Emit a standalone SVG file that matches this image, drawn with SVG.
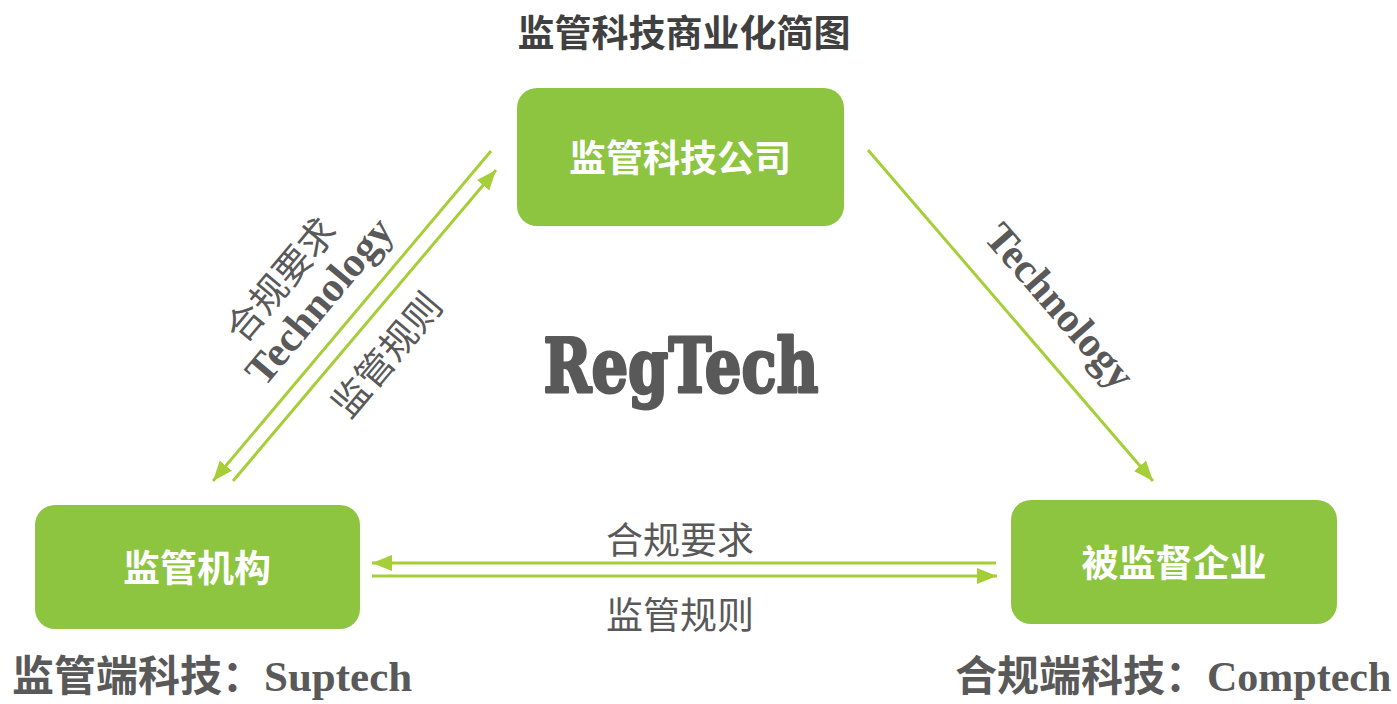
<svg xmlns="http://www.w3.org/2000/svg" width="1397" height="704" viewBox="0 0 1397 704">
<defs>
<style>
.box{fill:#8DC540;}
.boxtxt{font-family:"Noto Sans CJK SC",sans-serif;font-weight:bold;font-size:37px;fill:#FFFFFF;text-anchor:middle;}
.cjk{font-family:"Noto Sans CJK SC",sans-serif;font-size:37px;fill:#595959;text-anchor:middle;}
.tech{font-family:"Liberation Serif","Times New Roman",serif;font-weight:bold;font-size:42px;fill:#595959;text-anchor:middle;}
.conn{stroke:#A6CE39;stroke-width:3;fill:none;}
.bottom{fill:#595959;font-weight:bold;}
</style>
<marker id="ah" markerUnits="userSpaceOnUse" markerWidth="22" markerHeight="18" refX="20" refY="9" orient="auto">
<path d="M0,1 L20,9 L0,17 Z" fill="#A6CE39"/>
</marker>
</defs>
<rect width="1397" height="704" fill="#FFFFFF"/>
<text x="684" y="47" font-family="'Noto Sans CJK SC',sans-serif" font-weight="bold" font-size="37" fill="#404040" text-anchor="middle">监管科技商业化简图</text>

<g id="connectors">
<line class="conn" x1="491" y1="151" x2="213" y2="481" marker-end="url(#ah)"/>
<line class="conn" x1="233" y1="481" x2="496" y2="170" marker-end="url(#ah)"/>
<line class="conn" x1="868" y1="150" x2="1153" y2="481" marker-end="url(#ah)"/>
<line class="conn" x1="996" y1="563" x2="372" y2="563" marker-end="url(#ah)"/>
<line class="conn" x1="372" y1="576" x2="997" y2="576" marker-end="url(#ah)"/>
</g>

<g id="labels">
<text class="cjk" transform="translate(281,280) rotate(-50)" y="13">合规要求</text>
<text class="tech" transform="translate(319,301) rotate(-50)" y="14">Technology</text>
<text class="cjk" transform="translate(387,355) rotate(-50)" y="13">监管规则</text>
<text class="tech" transform="translate(1060,306) rotate(49)" y="14">Technology</text>
<text class="cjk" x="680" y="554">合规要求</text>
<text class="cjk" x="680" y="629">监管规则</text>
</g>

<text x="681" y="392" font-family="'DejaVu Serif',serif" font-weight="bold" font-size="74" fill="#595959" stroke="#595959" stroke-width="3" stroke-linejoin="round" text-anchor="middle" textLength="275" lengthAdjust="spacingAndGlyphs">RegTech</text>

<g id="node-regtech-company">
<rect class="box" x="517" y="88" width="327" height="138" rx="20"/>
<text class="boxtxt" x="680" y="172">监管科技公司</text>
</g>
<g id="node-regulator">
<rect class="box" x="35" y="505" width="325" height="124" rx="20"/>
<text class="boxtxt" x="197" y="582">监管机构</text>
</g>
<g id="node-regulated">
<rect class="box" x="1011" y="500" width="326" height="124" rx="20"/>
<text class="boxtxt" x="1174" y="577">被监督企业</text>
</g>

<text class="bottom" x="12" y="691"><tspan font-family="'Noto Sans CJK SC',sans-serif" font-size="42">监管端科技：</tspan><tspan font-family="'Liberation Serif',serif" font-size="43">Suptech</tspan></text>
<text class="bottom" x="955" y="691"><tspan font-family="'Noto Sans CJK SC',sans-serif" font-size="42">合规端科技：</tspan><tspan font-family="'Liberation Serif',serif" font-size="42">Comptech</tspan></text>
</svg>
